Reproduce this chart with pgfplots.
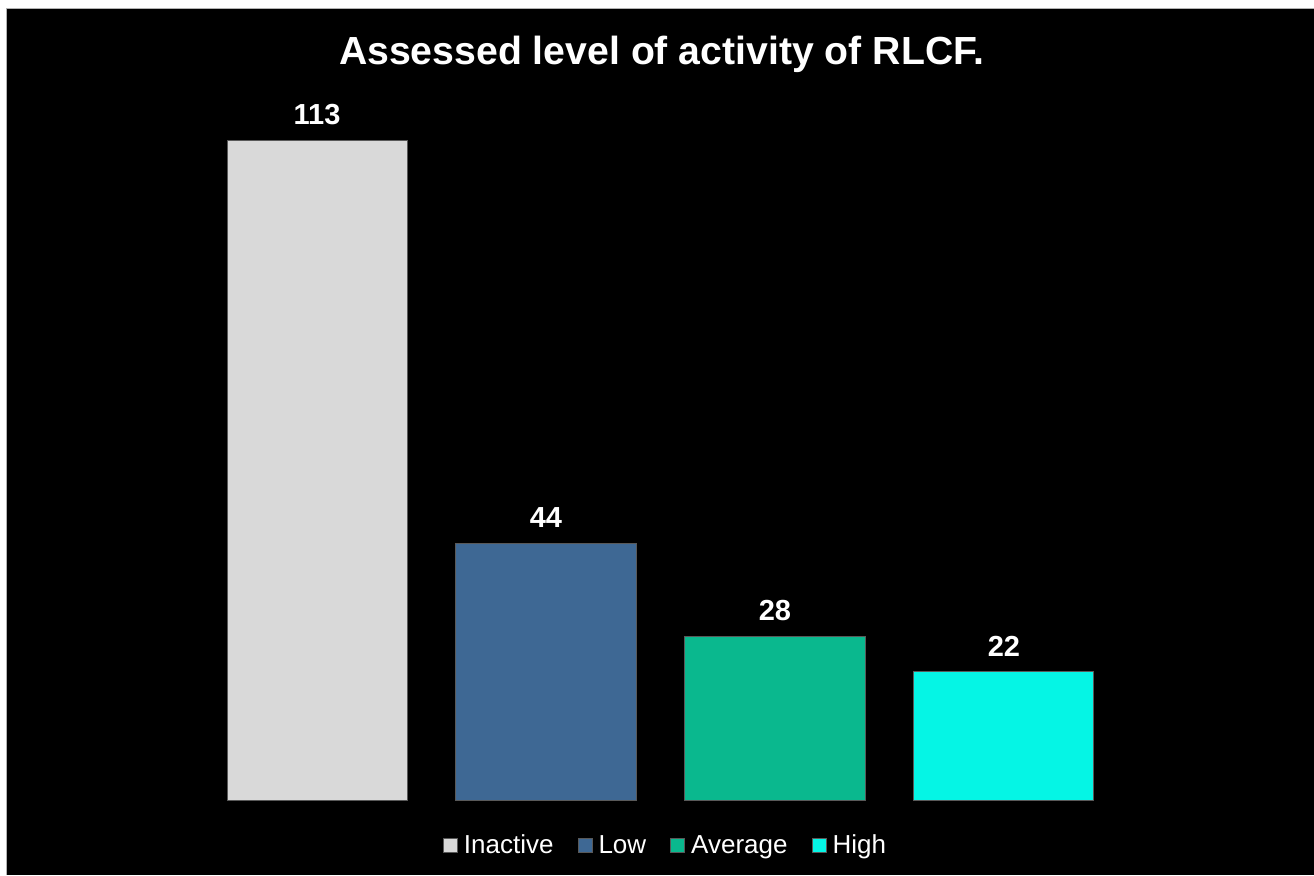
\documentclass[border=0pt]{standalone}
\usepackage{fontspec}
\setmainfont{Liberation Sans}
\usepackage{pgfplots}
\pgfplotsset{compat=1.18}
\definecolor{cInactive}{HTML}{D9D9D9}
\definecolor{cLow}{HTML}{3E6894}
\definecolor{cAvg}{HTML}{0AB88E}
\definecolor{cHigh}{HTML}{05F5E5}
\begin{document}
\begin{tikzpicture}[x=0.5pt,y=0.5pt]
\fill[white] (0,0) rectangle (1314,875);
\fill[black] (6,0) rectangle (1314,866);
\draw[gray!60, line width=0.5pt] (6,0) -- (6,866) -- (1314,866);
\node[anchor=base, text=white, font=\bfseries\fontsize{19.6}{23}\selectfont, inner sep=0pt] at (661.5,810) {Assessed level of activity of RLCF.};
\begin{axis}[
  at={(44pt,37.5pt)}, anchor=south west,
  width=572.5pt, height=365pt, scale only axis,
  hide axis,
  xmin=-1, xmax=4, ymin=0, ymax=125,
  /pgf/number format/assume math mode=true,
  ybar, bar width=90pt, bar shift=0pt,
  nodes near coords,
  every node near coord/.append style={text=white, font=\bfseries\fontsize{14.5}{17}\selectfont, inner sep=0pt, anchor=south, yshift=7.5pt},
  legend columns=4,
  legend style={at={(0.5035,-0.0628)}, anchor=center, draw=none, fill=none, text=white,
    font=\fontsize{13}{15}\selectfont,
    nodes={inner sep=0pt},
    /tikz/every odd column/.append style={column sep=3pt},
    /tikz/every even column/.append style={column sep=12pt}},
  legend image code/.code={\fill[#1] (0pt,-3.5pt) rectangle (7pt,3.5pt);},
]
\addplot[fill=cInactive, draw=gray!70!black, line width=0.5pt] coordinates {(0,113)};
\addlegendentry{Inactive}
\addplot[fill=cLow, draw=gray!70!black, line width=0.5pt] coordinates {(1,44)};
\addlegendentry{Low}
\addplot[fill=cAvg, draw=gray!70!black, line width=0.5pt] coordinates {(2,28)};
\addlegendentry{Average}
\addplot[fill=cHigh, draw=gray!70!black, line width=0.5pt] coordinates {(3,22)};
\addlegendentry{High}
\end{axis}
\pgfresetboundingbox
\path (0,0) rectangle (1314,875);
\end{tikzpicture}
\end{document}
